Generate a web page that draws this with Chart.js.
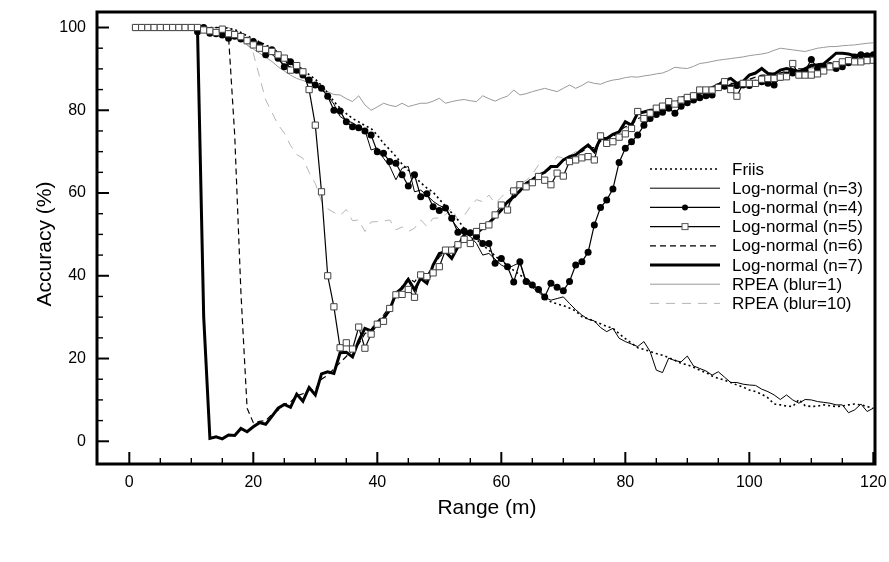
<!DOCTYPE html>
<html>
<head>
<meta charset="utf-8">
<script src="https://cdn.jsdelivr.net/npm/chart.js@4.4.1/dist/chart.umd.min.js"></script>
<style>
  html, body { margin: 0; padding: 0; background: #fff; }
  #wrap { width: 889px; height: 562px; }
</style>
</head>
<body>
<div id="wrap"><canvas id="accChart" width="889" height="562"></canvas></div>
<script>
// range in metres (one sample per metre)
const rangeM = [
  1,2,3,4,5,6,7,8,9,10,11,12,13,14,15,16,17,18,19,20,
  21,22,23,24,25,26,27,28,29,30,31,32,33,34,35,36,37,38,39,40,
  41,42,43,44,45,46,47,48,49,50,51,52,53,54,55,56,57,58,59,60,
  61,62,63,64,65,66,67,68,69,70,71,72,73,74,75,76,77,78,79,80,
  81,82,83,84,85,86,87,88,89,90,91,92,93,94,95,96,97,98,99,100,
  101,102,103,104,105,106,107,108,109,110,111,112,113,114,115,116,117,118,119,120
];

const xTicks = [0, 20, 40, 60, 80, 100, 120];
const yTicks = [0, 20, 40, 60, 80, 100];

const friis = [
  100,100,100,100,100,100,100,100,100,100,
  100,100,100,100,100,99.8,99.5,98.8,98,97.3,
  96.5,95.8,95,94,93,92,91,89.8,88.6,87.5,
  86,84.2,82.1,80.5,79.2,78,77.2,76.3,75.6,74,
  72,70.5,68.8,67,65.5,64,62.5,61.2,60.2,58.5,
  56.8,55.2,53.5,51.5,50,48.8,47.4,46.2,44.8,43.6,
  42.5,41.3,40.2,39.2,38.2,37,34.5,33.7,33.2,32.8,
  32.2,31.5,30.1,29.6,29,28.4,27.8,27.3,26,24.8,
  23.7,22.6,22.2,21.7,21.2,20.8,20.2,19.6,18.8,18.5,
  17.9,17.2,16.6,15.8,15.2,14.8,14.2,13.6,13.1,12.4,
  12,11.4,10.5,9,8.8,8.5,8.4,10.1,8.6,8.4,
  8.5,8.8,8.6,8.4,8.5,8.8,9,8.8,8.4,8
];

const logN3 = [
  100,100,100,100,100,100,100,100,100,100,
  99.5,99.5,98.8,98.6,98.4,97.9,97.5,97,96.4,95.6,
  95,94,93.5,92.3,91,90.5,89.4,88.2,87,86,
  85,83.5,81.5,78.5,77.5,77,76,75.2,70.4,70.9,
  68.4,66.5,63.2,66,66.4,60.3,60.7,59.5,58,57,
  56.3,53.5,51.5,50.3,49.5,47.8,45,45.4,44,42.6,
  41.8,42.5,43.2,38.2,37.2,36,34.8,34.1,34.5,34.9,
  33.3,31.8,30.5,29.5,29.1,27.5,26.5,27.3,24.9,24.1,
  23.5,22.9,24.1,21.7,17.2,16.6,20.1,19.5,19.2,20.6,
  18.2,17.6,17,16,16.8,15.5,14.2,14.2,13.8,13.6,
  13.5,12.6,12,11.2,10.1,11.2,10,9.2,10.1,10,
  9.6,9.4,9.2,8.8,8.8,6.9,7.6,9,7.2,8
];

const logN4 = [
  100,100,100,100,100,100,100,100,100,100,
  99,100,98.6,98.5,98.2,97.4,97.9,97.2,96.9,96.6,
  95.8,93.4,94.6,92.6,90.5,91.7,89.7,88.5,87.3,86.1,
  85.3,83.4,80,79.8,77.2,76,75.8,75,74,70,
  69.6,67.6,67.2,64.4,61.7,64.4,59.1,59.8,56.7,55.8,
  56.4,53.9,50.5,50.8,50.4,49.5,47.8,47.8,43,44.2,
  42.2,38.5,43.4,38.6,37.8,36.7,34.9,38.2,37.2,36.4,
  38.6,42.6,43.4,45.7,52.3,56.5,58.3,61,67.4,70.8,
  72.4,74,76.4,78,79,79.5,80.5,79.3,81,81.8,
  82.5,83,83.5,83.7,85.7,85.8,85.5,86,86.1,86,
  86.5,86.9,86.5,86.1,88,88.5,89,88.8,89.5,92.3,
  90.1,90.5,90.8,90.1,90.5,91.5,92.9,93.4,93.2,93.4
];

const logN5 = [
  100,100,100,100,100,100,100,100,100,100,
  100,99.4,99.2,98.8,99.6,98.5,98.3,97.8,96.8,95.8,
  95,94.7,94.2,93.4,92.6,89.7,90.8,89.3,85,76.4,
  60.3,40,32.5,22.6,23.8,22.3,27.6,22.5,25.9,28.3,
  29,32.1,35.4,35.5,36.7,34.8,40.2,39.8,40.7,42.2,
  46.2,46.2,47.5,48.8,47.8,50.7,51.9,52.3,54.7,57.1,
  55.9,60.5,62,61.5,62.5,64,63.1,62,64.8,64.1,
  67.6,68,68.5,68.8,68,73.8,72,72.4,73.5,74.3,
  75.6,79.7,78,79.3,80.5,81,82.1,81.5,82.5,83.1,
  83.5,84.9,84.9,84.9,85.5,86.9,85,83.4,86.5,86.5,
  86.5,87.5,87.7,87.7,88,88.1,91.3,88.5,88.5,88.5,
  88.8,89.5,90.5,91,91.7,92,91.7,91.7,92,92.1
];

const logN6 = [
  100,100,100,100,100,100,100,100,100,100,
  100,100,100,100,100,98,74,36,8,4.5,
  4.8,5,6.5,7.5,9,9.5,11,11.5,12.5,12.5,
  15,16,17.5,19,20.5,22,23.5,26,27,29,
  30.5,32.5,35,37.5,39.5,38.5,40.5,40,42.5,44.5,
  46,46.5,48,49,50.5,51,52,53,54.5,56,
  57.5,58.5,60.5,61.5,62.5,64,65,66,66.5,68,
  68.5,69.5,70,71,71,72.5,73,73.5,75,76,
  76.5,78,78.5,79.5,80,80.5,81.5,81.5,82.5,83,
  83.5,84,84.5,85,85.5,86,86.5,86.5,87,87.5,
  88,88.5,88.5,89,89,89.5,89.5,90,90,90.5,
  90.5,91,91,91.5,91.5,92,92,92,92.5,92.5
];

const logN7 = [
  100,100,100,100,100,100,100,100,100,100,
  99.5,30,0.7,1.1,0.6,1.5,1.4,3.1,2.3,3.5,
  4.5,4.1,6,8,8.9,8.2,11.4,9.7,13,11.2,
  16.3,16.8,16.4,21.4,21.5,20.4,24.3,27.3,26.7,28.5,
  29.7,31.7,35.8,37,39.1,36.6,39.4,38.2,42.6,45.4,
  45.8,44.2,47,49.9,50.7,50.3,51.5,52.7,54.3,55.9,
  57.9,59.1,60.5,62.3,63.2,64.3,65,66.4,66.4,68,
  68.8,69.2,70.5,71.6,70,73.2,73.2,74.2,74.8,77.2,
  76.4,79.3,79.6,80,80,80,82.5,81.3,82.9,83.4,
  83.7,84.1,84.8,85.5,86.1,87.2,87.7,86.5,87,88.5,
  89,90.1,88.9,88.7,89.7,90.1,89.8,89.3,90,90.9,
  91,91.2,92.5,93.8,93.8,93.6,93.2,93.4,93.4,93.4
];

const rpeaBlur1 = [
  100,100,100,100,100,100,100,100,100,100,
  100,100,100,100,100,100,99,97.5,95.8,94.8,
  93.8,92.8,91.8,90.5,89.5,88.5,87.7,87.2,86.6,86.2,
  85.7,84.5,83.8,83.7,82.8,82.1,83.5,81.3,80,80.8,
  81.7,81.2,80.9,81.7,80.9,81.3,81.7,81.7,82.2,82.9,
  81.7,82.1,82.4,82.6,82.3,82.1,83.5,82.8,82.2,82.9,
  83.4,84.9,83.7,84,84.5,84.9,85.3,84.9,84.5,85.3,
  86.1,85.3,86,86.9,86.5,86.3,86.9,87.3,87.5,87.9,
  88.1,88,88.3,88.5,88.8,89,89.6,90.4,90.2,90.1,
  90.6,91.3,91.5,91.8,92.1,92.3,92.5,92.7,92.9,93.2,
  93.4,93.6,93.9,94.5,95,94.8,94.6,94.4,94.2,94.6,
  95,95.2,95.4,95.4,95.6,95.7,95.8,96,96.2,96.3
];

const rpeaBlur10 = [
  100,100,100,100,100,100,100,100,100,100,
  100,100,100,100,100,100,99,97.5,95.8,93.8,
  88.1,82.5,79.5,76.5,74.5,71.5,69.3,68.4,65,62.3,
  58,56.2,55.3,54.6,56,53.3,53.5,50.7,53,53.1,
  53.2,53.5,51.1,51.8,50.7,51.5,53.5,51.9,53.9,54,
  54.8,56.3,53.5,54.5,56.7,58.4,57.9,59.5,57.5,59,
  60.5,61,62.5,63,64.5,66.8,65.5,66.5,68.8,68.5,
  69,70,70.5,71.5,71.5,72.5,73.5,74,75,75.5,
  76.5,77.5,78,79,79.5,80.5,81,81.5,82,82.5,
  83,83.5,84,84.5,85,85.5,86,86.5,87,87.5,
  87.5,88,88.5,88.5,89,89,89.5,89.5,90,90,
  90.5,90.5,91,91,91.5,91.5,92,92,92.5,92.5
];

const FONT = "'Liberation Sans', Arial, Helvetica, sans-serif";

function pts(vals) {
  return rangeM.map((x, i) => ({ x: x, y: vals[i] }));
}

const datasets = [
  { label: 'Friis', data: pts(friis), borderColor: '#000', borderWidth: 1.6, borderDash: [2, 3], pointRadius: 0, order: 4 },
  { label: 'Log-normal (n=3)', data: pts(logN3), borderColor: '#000', borderWidth: 1, pointRadius: 0, order: 3 },
  { label: 'Log-normal (n=4)', data: pts(logN4), borderColor: '#000', borderWidth: 1.2, pointStyle: 'circle', pointRadius: 3.5,
    pointBackgroundColor: '#000', pointBorderColor: '#000', pointBorderWidth: 0, order: 1 },
  { label: 'Log-normal (n=5)', data: pts(logN5), borderColor: '#000', borderWidth: 1.2, pointStyle: 'rect', pointRadius: 4.4,
    pointBackgroundColor: '#fff', pointBorderColor: '#444', pointBorderWidth: 1, order: 0 },
  { label: 'Log-normal (n=6)', data: pts(logN6), borderColor: '#000', borderWidth: 1.2, borderDash: [6, 4], pointRadius: 0, order: 5 },
  { label: 'Log-normal (n=7)', data: pts(logN7), borderColor: '#000', borderWidth: 3, pointRadius: 0, order: 2 },
  { label: 'RPEA (blur=1)', data: pts(rpeaBlur1), borderColor: '#999', borderWidth: 1, pointRadius: 0, order: 6 },
  { label: 'RPEA (blur=10)', data: pts(rpeaBlur10), borderColor: '#b5b5b5', borderWidth: 1, borderDash: [9, 7], pointRadius: 0, order: 7 }
];

// frame, inward ticks, axis titles and the legend box
const decorations = {
  id: 'decorations',
  afterDraw(chart) {
    const { ctx, chartArea: a } = chart;
    const xs = chart.scales.x, ys = chart.scales.y;
    ctx.save();
    ctx.strokeStyle = '#000';

    for (let v = 0; v <= 120; v += 5) {
      const px = xs.getPixelForValue(v);
      const major = v % 20 === 0;
      ctx.lineWidth = major ? 2 : 1.4;
      ctx.beginPath();
      ctx.moveTo(px, a.bottom);
      ctx.lineTo(px, a.bottom - (major ? 12 : 6));
      ctx.stroke();
    }
    for (let v = 0; v <= 100; v += 5) {
      const py = ys.getPixelForValue(v);
      const major = v % 20 === 0;
      ctx.lineWidth = major ? 2 : 1.4;
      ctx.beginPath();
      ctx.moveTo(a.left, py);
      ctx.lineTo(a.left + (major ? 12 : 6), py);
      ctx.stroke();
    }

    ctx.lineWidth = 3;
    ctx.strokeRect(a.left, a.top, a.right - a.left, a.bottom - a.top);

    // axis titles
    ctx.fillStyle = '#000';
    ctx.font = '21px ' + FONT;
    ctx.textAlign = 'center';
    ctx.textBaseline = 'middle';
    ctx.fillText('Range (m)', 487, 508);
    ctx.save();
    ctx.translate(45, 244);
    ctx.rotate(-Math.PI / 2);
    ctx.fillText('Accuracy (%)', 0, 0);
    ctx.restore();

    // legend
    ctx.font = '17px ' + FONT;
    ctx.textAlign = 'left';
    chart.data.datasets.forEach((ds, i) => {
      const y = 169 + i * 19.2;
      ctx.save();
      ctx.strokeStyle = ds.borderColor;
      ctx.lineWidth = ds.borderWidth;
      ctx.setLineDash(ds.borderDash || []);
      ctx.beginPath();
      ctx.moveTo(650, y);
      ctx.lineTo(720, y);
      ctx.stroke();
      ctx.restore();
      if (ds.pointStyle === 'circle') {
        ctx.fillStyle = '#000';
        ctx.beginPath();
        ctx.arc(685, y, 3, 0, Math.PI * 2);
        ctx.fill();
      } else if (ds.pointStyle === 'rect') {
        ctx.fillStyle = '#fff';
        ctx.fillRect(682, y - 3, 6, 6);
        ctx.strokeStyle = '#555';
        ctx.lineWidth = 1;
        ctx.strokeRect(682, y - 3, 6, 6);
      }
      ctx.fillStyle = '#000';
      ctx.fillText(ds.label, 732, y + 1);
    });
    ctx.restore();
  }
};

// drop the automatic label overflow padding so the plot box keeps its size
function noOverflow(s) {
  s.paddingLeft = 0;
  s.paddingRight = 0;
  s.paddingTop = 0;
  s.paddingBottom = 0;
}

new Chart(document.getElementById('accChart'), {
  type: 'line',
  data: { datasets: datasets },
  options: {
    responsive: false,
    animation: false,
    devicePixelRatio: 1,
    layout: { padding: { top: 12, right: 14, left: 0, bottom: 0 } },
    elements: { line: { tension: 0 } },
    plugins: { legend: { display: false }, tooltip: { enabled: false } },
    scales: {
      x: {
        type: 'linear',
        min: -5.21,
        max: 120.27,
        afterBuildTicks: (s) => { s.ticks = xTicks.map(v => ({ value: v })); },
        afterFit: (s) => { s.height = 98; noOverflow(s); },
        grid: { display: false, drawTicks: false },
        border: { display: false },
        ticks: { color: '#000', font: { size: 16, family: FONT }, padding: 9, maxRotation: 0 }
      },
      y: {
        type: 'linear',
        min: -5.49,
        max: 103.75,
        afterBuildTicks: (s) => { s.ticks = yTicks.map(v => ({ value: v })); },
        afterFit: (s) => { s.width = 97; noOverflow(s); },
        grid: { display: false, drawTicks: false },
        border: { display: false },
        ticks: { color: '#000', font: { size: 16, family: FONT }, padding: 11 }
      }
    }
  },
  plugins: [decorations]
});
</script>
</body>
</html>
